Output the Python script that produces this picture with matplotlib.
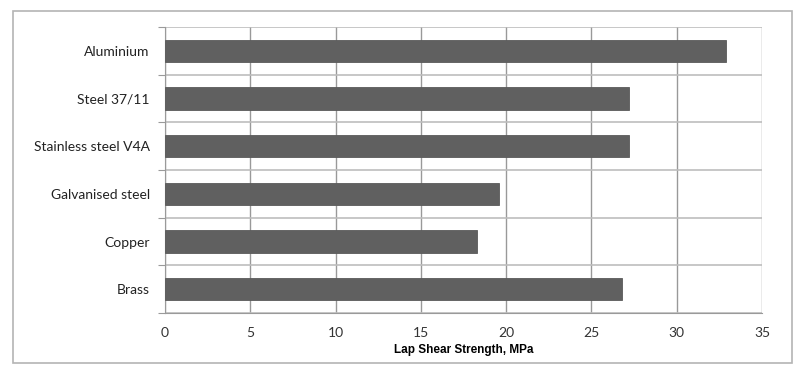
import matplotlib.pyplot as plt
import numpy as np
from matplotlib.patches import Rectangle

# data, top to bottom
materials = ['Aluminium', 'Steel 37/11', 'Stainless steel V4A',
             'Galvanised steel', 'Copper', 'Brass']
strength = [32.9, 27.2, 27.2, 19.6, 18.3, 26.8]
xticks = [0, 5, 10, 15, 20, 25, 30, 35]

fig = plt.figure(figsize=(8, 3.8), dpi=100)
ax = fig.add_axes([0.20625, 0.1763, 0.74625, 0.7526])

# outer chart frame like the spreadsheet export
fig.patches.append(Rectangle((13/800, 1-363/380), (792-13)/800, (363-11)/380,
                             transform=fig.transFigure, fill=False,
                             edgecolor='#b4b4b4', linewidth=1.2))

y = np.arange(len(materials))
ax.barh(y, strength, height=0.47, color='#606060', edgecolor='#5a5a5a',
        linewidth=0.6, zorder=3)

ax.set_xlim(0, 35)
ax.set_ylim(len(materials) - 0.5, -0.5)
ax.set_xticks(xticks)
ax.set_xticklabels([str(t) for t in xticks], fontname='Lato', fontsize=10,
                   color='#333333')
ax.tick_params(axis='x', length=0, pad=10)

# category labels sit between boundary ticks
ax.set_yticks(np.arange(len(materials) + 1) - 0.5)
ax.set_yticklabels([])
ax.set_yticks(y, minor=True)
ax.set_yticklabels(materials, minor=True, fontname='Lato', fontsize=10,
                   color='#222222')
ax.tick_params(axis='y', which='major', length=5, color='#9a9a9a', direction='out')
ax.tick_params(axis='y', which='minor', length=0, pad=11)

ax.grid(axis='x', color='#999999', linewidth=1.0, zorder=0)
ax.grid(axis='y', which='major', color='#bdbdbd', linewidth=1.2, zorder=0)

for side in ['top', 'right']:
    ax.spines[side].set_visible(False)
ax.spines['left'].set_color('#9a9a9a')
ax.spines['bottom'].set_color('#9a9a9a')

ax.set_xlabel('Lap Shear Strength, MPa', fontname='Liberation Sans',
              fontweight='bold', fontsize=8.5, labelpad=4)

fig.savefig('out.png', dpi=100)
